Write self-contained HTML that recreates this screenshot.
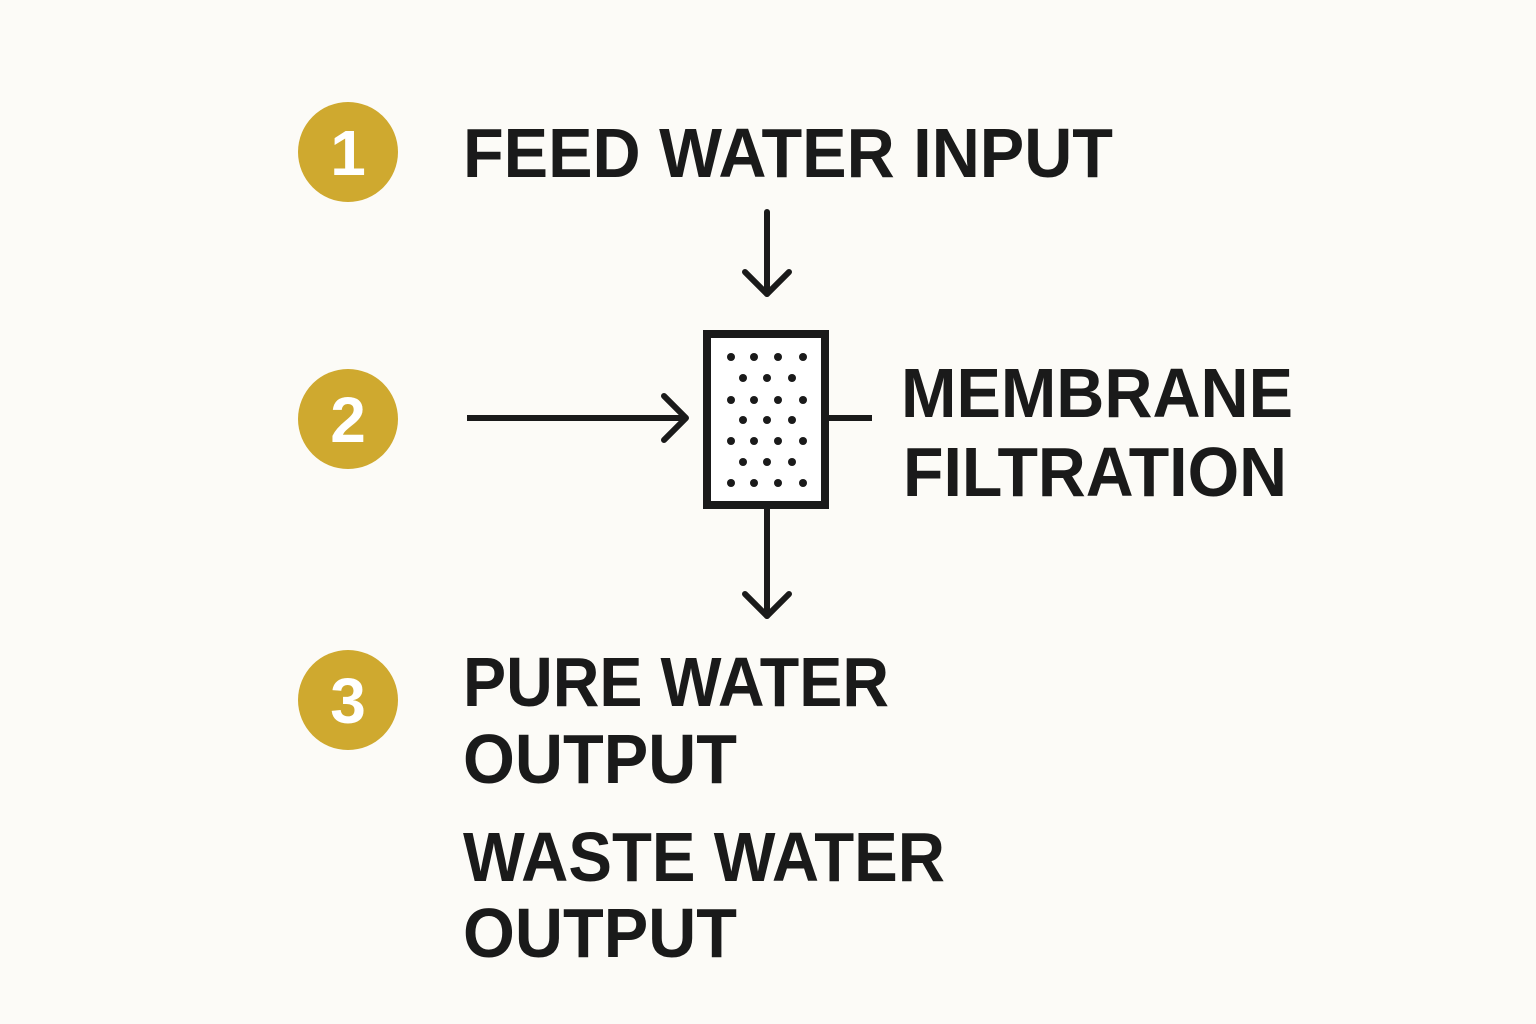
<!DOCTYPE html>
<html><head><meta charset="utf-8"><style>
html,body{margin:0;padding:0;background:#fcfbf7;}
svg{display:block}
text{font-family:"Liberation Sans",sans-serif;font-weight:bold;fill:#1a1a1a;}
</style></head><body>
<svg width="1536" height="1024" viewBox="0 0 1536 1024">
<rect width="1536" height="1024" fill="#fcfbf7"/>
<g fill="#cfa92f">
<circle cx="348" cy="152" r="50"/><circle cx="348" cy="419" r="50"/><circle cx="348" cy="700" r="50"/>
</g>
<g font-size="64">
<text x="348" y="175" text-anchor="middle" style="fill:#fff">1</text>
<text x="348" y="442" text-anchor="middle" style="fill:#fff">2</text>
<text x="348" y="723" text-anchor="middle" style="fill:#fff">3</text>
</g>
<g font-size="70">
<text x="463" y="177" textLength="650" lengthAdjust="spacingAndGlyphs">FEED WATER INPUT</text>
<text x="901" y="417" textLength="392" lengthAdjust="spacingAndGlyphs">MEMBRANE</text>
<text x="903" y="496" textLength="384" lengthAdjust="spacingAndGlyphs">FILTRATION</text>
<text x="463" y="706" textLength="426" lengthAdjust="spacingAndGlyphs">PURE WATER</text>
<text x="463" y="783" textLength="274" lengthAdjust="spacingAndGlyphs">OUTPUT</text>
<text x="463" y="881" textLength="482" lengthAdjust="spacingAndGlyphs">WASTE WATER</text>
<text x="463" y="957" textLength="274" lengthAdjust="spacingAndGlyphs">OUTPUT</text>
</g>
<g stroke="#1a1a1a" stroke-width="6" fill="none" stroke-linecap="round" stroke-linejoin="round">
<line x1="767" y1="212" x2="767" y2="294"/>
<polyline points="745,272 767,294 789,272"/>
<line x1="467" y1="418" x2="686" y2="418" stroke-linecap="butt"/>
<polyline points="664,396 686,418 664,440"/>
<line x1="767" y1="509" x2="767" y2="616"/>
<polyline points="745,594 767,616 789,594"/>
<line x1="829" y1="418" x2="872" y2="418" stroke-linecap="butt"/>
</g>
<rect x="707" y="334" width="118" height="171" fill="#fff" stroke="#1a1a1a" stroke-width="8"/>
<g fill="#1a1a1a">
<circle cx="731" cy="357" r="4"/><circle cx="754" cy="357" r="4"/><circle cx="778" cy="357" r="4"/><circle cx="803" cy="357" r="4"/>
<circle cx="743" cy="378" r="4"/><circle cx="767" cy="378" r="4"/><circle cx="792" cy="378" r="4"/>
<circle cx="731" cy="400" r="4"/><circle cx="754" cy="400" r="4"/><circle cx="778" cy="400" r="4"/><circle cx="803" cy="400" r="4"/>
<circle cx="743" cy="420" r="4"/><circle cx="767" cy="420" r="4"/><circle cx="792" cy="420" r="4"/>
<circle cx="731" cy="441" r="4"/><circle cx="754" cy="441" r="4"/><circle cx="778" cy="441" r="4"/><circle cx="803" cy="441" r="4"/>
<circle cx="743" cy="462" r="4"/><circle cx="767" cy="462" r="4"/><circle cx="792" cy="462" r="4"/>
<circle cx="731" cy="483" r="4"/><circle cx="754" cy="483" r="4"/><circle cx="778" cy="483" r="4"/><circle cx="803" cy="483" r="4"/>
</g>
</svg>
</body></html>
